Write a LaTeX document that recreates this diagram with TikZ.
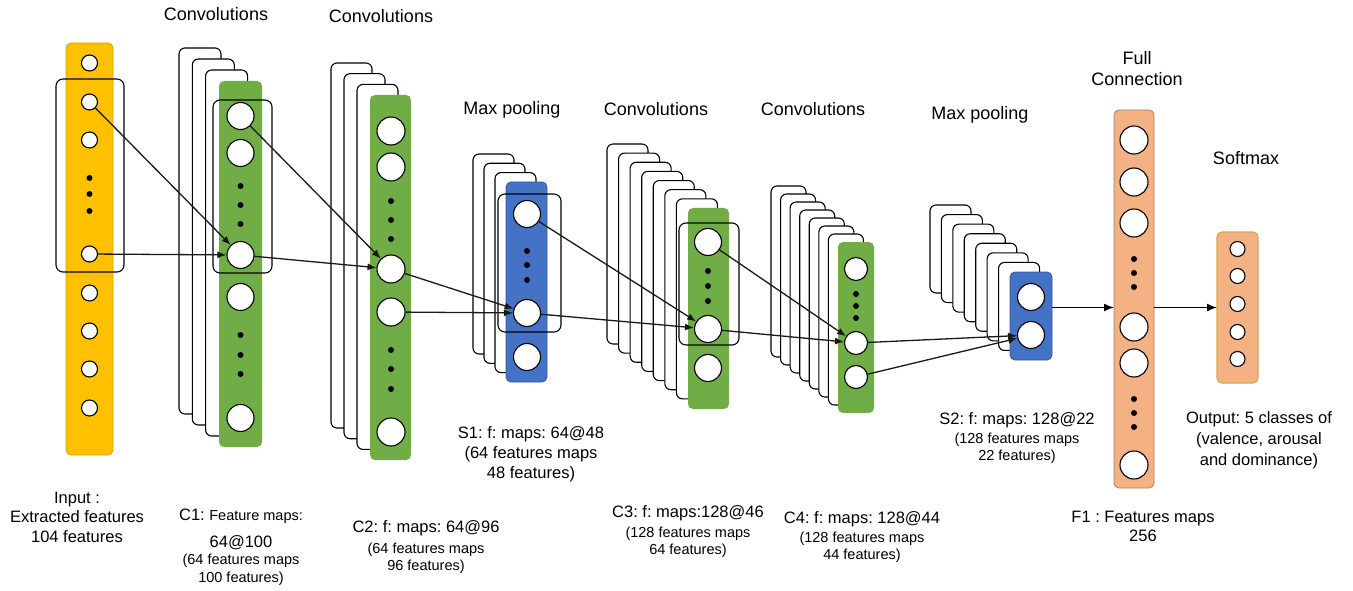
\documentclass[tikz,border=0pt]{standalone}
\usepackage{fontspec}
\setmainfont{Liberation Sans}
\frenchspacing
\usetikzlibrary{arrows.meta, positioning}
\definecolor{inyellow}{HTML}{FFC000}
\definecolor{convgreen}{HTML}{70AD47}
\definecolor{poolblue}{HTML}{4472C4}
\definecolor{fcorange}{HTML}{F4B183}
\definecolor{smedge}{HTML}{D6A94A}
\newcommand{\smallfs}{\fontsize{14.5}{17}\selectfont}

\begin{document}
\begin{tikzpicture}[x=1pt, y=-1pt,
  fmap/.style={rectangle, draw=black, fill=white, rounded corners=6pt, line width=1.1pt, inner sep=0pt, outer sep=0pt, anchor=north west},
  column/.style={rectangle, rounded corners=5pt, inner sep=0pt, outer sep=0pt, anchor=north west, line width=0.8pt},
  neuron/.style={circle, draw=black, fill=white, line width=1.1pt, inner sep=0pt, minimum size=#1},
  neuron/.default=27pt,
  vdot/.style={circle, fill=black, inner sep=0pt, minimum size=6pt},
  window/.style={rectangle, draw=black, rounded corners=7pt, line width=1.1pt, inner sep=0pt, outer sep=0pt, anchor=north west},
  link/.style={-{Latex[length=9pt,width=7pt]}, line width=1.3pt, black!90},
  bigarrow/.style={-{Latex[length=10pt,width=8pt]}, line width=1.5pt},
  head/.style={anchor=north, inner sep=0pt, align=center, font=\fontsize{18}{21}\selectfont},
  lbl/.style={anchor=north, inner sep=0pt, align=center, font=\fontsize{16.5}{17}\selectfont}]

\useasboundingbox (0,0) rectangle (1353,591);

% stacked feature maps
\foreach \nm/\n/\lx/\ty/\dx/\dy/\w/\h in {c1/3/179/48/13.3/11/42/366, c2/3/331/63/13/10.7/41/365, s1/3/473/154/11/9.3/41/200, c3/7/607/144/11.57/9.14/41/200, c4/7/771/186/9.57/8/35/171, s2/7/930/205/11.43/9.57/41/88}
  \foreach \i in {1,...,\n}
    \node[fmap, minimum width=\w pt, minimum height=\h pt] (\nm map\i) at ({\lx+(\i-1)*\dx},{\ty+(\i-1)*\dy}) {};

% front columns
\node[column, fill=inyellow, draw=inyellow!85!black, minimum width=47pt, minimum height=412pt] (input) at (66,43) {};
\node[column, fill=convgreen, minimum width=43pt, minimum height=366pt] (c1) at (219,81) {};
\node[column, fill=convgreen, minimum width=41pt, minimum height=365pt] (c2) at (370,95) {};
\node[column, fill=poolblue, draw=poolblue!80!black, minimum width=41pt, minimum height=200pt] (s1) at (506,182) {};
\node[column, fill=convgreen, minimum width=41pt, minimum height=201pt] (c3) at (688,208) {};
\node[column, fill=convgreen, minimum width=36pt, minimum height=171pt] (c4) at (838,242) {};
\node[column, fill=poolblue, draw=poolblue!80!black, minimum width=42pt, minimum height=88pt] (s2) at (1010,272) {};
\node[column, fill=fcorange, draw=fcorange!70!black, minimum width=40pt, minimum height=378pt] (f1) at (1114,110) {};
\node[column, fill=fcorange, draw=smedge, line width=1.2pt, minimum width=41pt, minimum height=151pt] (sm) at (1217,232) {};

% neurons
\foreach \y [count=\k] in {63,102,140,254,293,331,369,408}
  \node[neuron=16pt] (in\k) at (89.5,\y) {};
\foreach \y [count=\k] in {178,194,211}
  \node[vdot] (indot\k) at (89.5,\y) {};

\foreach \y [count=\k] in {116,153,255,297,418}
  \node[neuron] (c1n\k) at (240.5,\y) {};
\foreach \y [count=\k] in {186,205,224,335,355,374}
  \node[vdot] (c1dot\k) at (240.5,\y) {};

\foreach \y [count=\k] in {131,167,269,312,432}
  \node[neuron=28pt] (c2n\k) at (391,\y) {};
\foreach \y [count=\k] in {201,220,239,350,369,389}
  \node[vdot] (c2dot\k) at (391,\y) {};

\foreach \y [count=\k] in {214,313,357}
  \node[neuron] (s1n\k) at (527,\y) {};
\foreach \y [count=\k] in {251,265,280}
  \node[vdot] (s1dot\k) at (527,\y) {};

\foreach \y [count=\k] in {242,329,368}
  \node[neuron] (c3n\k) at (708,\y) {};
\foreach \y [count=\k] in {271,286,301}
  \node[vdot] (c3dot\k) at (708,\y) {};

\foreach \y [count=\k] in {269,343,377}
  \node[neuron=23pt] (c4n\k) at (856,\y) {};
\foreach \y [count=\k] in {294,306,318}
  \node[vdot] (c4dot\k) at (856,\y) {};

\foreach \y [count=\k] in {297,335}
  \node[neuron] (s2n\k) at (1031,\y) {};

\foreach \y [count=\k] in {140,182,223,327,363,465}
  \node[neuron=28pt] (f1n\k) at (1134,\y) {};
\foreach \y [count=\k] in {259,273,287,399,413,427}
  \node[vdot] (f1dot\k) at (1134,\y) {};

\foreach \y [count=\k] in {249,276,304,332,359}
  \node[neuron=15pt] (smn\k) at (1237.5,\y) {};

% receptive windows
\node[window, minimum width=68pt, minimum height=193pt] (inwin) at (56,79) {};
\node[window, minimum width=59pt, minimum height=173pt] (c1win) at (213,100) {};
\node[window, minimum width=63pt, minimum height=138pt] (s1win) at (498,194) {};
\node[window, minimum width=60pt, minimum height=122pt] (c3win) at (679,223) {};

% connections
\draw[link] (in2) -- (c1n3);
\draw[link] (in4) -- (c1n3);
\draw[link] (c1n1) -- (c2n3);
\draw[link] (c1n3) -- (c2n3);
\draw[link] (c2n3) -- (s1n2);
\draw[link] (c2n4) -- (s1n2);
\draw[link] (s1n1) -- (c3n2);
\draw[link] (s1n2) -- (c3n2);
\draw[link] (c3n1) -- (c4n2);
\draw[link] (c3n2) -- (c4n2);
\draw[link] (c4n2) -- (s2n2);
\draw[link] (c4n3) -- (s2n2);
\draw[bigarrow] (s2.east |- sm.west) -- (f1.west |- sm.west);
\draw[bigarrow] (f1.east |- sm.west) -- (sm.west);

% titles
\node[head] (hconv1) at (216,7) {Convolutions};
\node[head] (hconv2) at (381,9) {Convolutions};
\node[head] (hpool1) at (512,101) {Max pooling};
\node[head] (hconv3) at (656,102) {Convolutions};
\node[head] (hconv4) at (813,102) {Convolutions};
\node[head] (hpool2) at (980,106) {Max pooling};
\node[head] (hfull) at (1137,51) {Full\\Connection};
\node[head] (hsoft) at (1246,151) {Softmax};

% captions
\node[lbl] (lin) at (77,492) {Input :\\[2pt]Extracted features\\[3pt]104 features};
\node[lbl] (lc1) at (241,509) {C1: {\smallfs Feature maps:}\\[10pt]64@100\\{\smallfs (64 features maps}\\[1pt]{\smallfs 100 features)}};
\node[lbl] (lc2) at (426,520) {C2: f: maps: 64@96\\[4pt]{\smallfs (64 features maps}\\{\smallfs 96 features)}};
\node[lbl] (ls1) at (531,426) {S1: f: maps: 64@48\\[3pt](64 features maps\\[3pt]48 features)};
\node[lbl] (lc3) at (688,505) {C3: f: maps:128@46\\[3pt]{\smallfs (128 features maps}\\{\smallfs 64 features)}};
\node[lbl] (lc4) at (862,511) {C4: f: maps: 128@44\\[2pt]{\smallfs (128 features maps}\\{\smallfs 44 features)}};
\node[lbl] (ls2) at (1017,412) {S2: f: maps: 128@22\\[2pt]{\smallfs (128 features maps}\\{\smallfs 22 features)}};
\node[lbl] (lf1) at (1143,511) {F1 : Features maps\\[2pt]256};
\node[lbl] (lout) at (1259,411) {Output: 5 classes of\\[4pt](valence, arousal\\[4pt]and dominance)};

\end{tikzpicture}
\end{document}
